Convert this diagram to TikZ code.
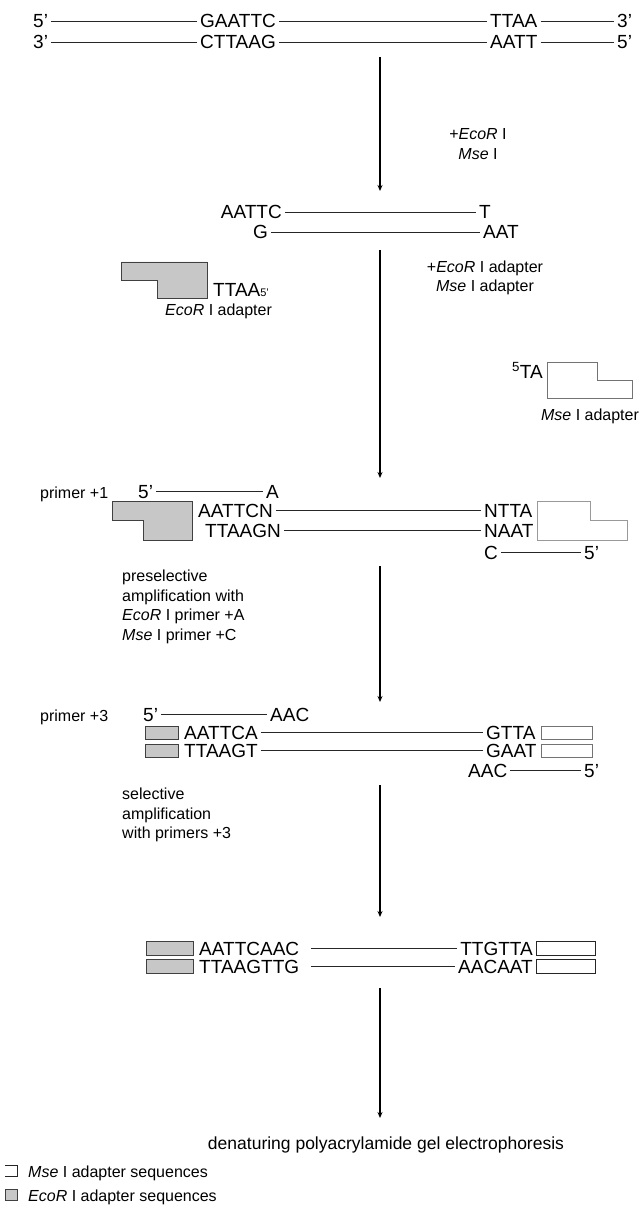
\documentclass[tikz,border=0pt]{standalone}
\usepackage{fontspec}
\setmainfont{Liberation Sans}
\usetikzlibrary{arrows.meta}
\newcommand\strandline[3][3]{\draw[strand] ([xshift=#1pt]#2.east) -- ([xshift=-3pt]#3.west);}
\tikzset{
  seq/.style={font=\fontsize{19}{21}\selectfont, inner sep=0pt, text height=13.6pt, text depth=0pt},
  lab/.style={font=\fontsize{16}{19.5}\selectfont, inner sep=0pt},
  strand/.style={line width=0.8pt, black!85},
  flow/.style={line width=1.5pt, -{Stealth[length=6pt,width=5pt]}},
  ecoad/.style={draw=black!75, fill=black!22, line width=0.9pt},
  msead/.style={draw=black!55, fill=white, line width=0.9pt},
  msedark/.style={draw=black!85, fill=white, line width=1pt},
}
\begin{document}
\begin{tikzpicture}[x=1pt,y=-1pt]
\useasboundingbox[fill=white] (0,0) rectangle (643,1214);

% ---- row 1/2: genomic DNA
\node[seq,anchor=base west] (a1) at (33,28) {5'};
\node[seq,anchor=base west] (a2) at (200,28) {GAATTC};
\node[seq,anchor=base west] (a3) at (490,28) {TTAA};
\node[seq,anchor=base west] (a4) at (617,28) {3'};
\strandline{a1}{a2}\strandline{a2}{a3}\strandline{a3}{a4}
\node[seq,anchor=base west] (b1) at (33,49) {3'};
\node[seq,anchor=base west] (b2) at (200,49) {CTTAAG};
\node[seq,anchor=base west] (b3) at (490,49) {AATT};
\node[seq,anchor=base west] (b4) at (617,49) {5'};
\strandline{b1}{b2}\strandline{b2}{b3}\strandline{b3}{b4}

% ---- arrow 1
\coordinate (s1) at (380,57); \coordinate (e1) at (380,191);
\draw[flow] (s1) -- (e1);
\node[lab,align=center] (l1) at (478,144) {+\textit{EcoR} I\\\textit{Mse} I};

% ---- row 3: digested fragment
\node[seq,anchor=base east] (c1) at (282,219) {AATTC};
\node[seq,anchor=base west] (c2) at (479,219) {T};
\strandline{c1}{c2}
\node[seq,anchor=base east] (d1) at (268,239) {G};
\node[seq,anchor=base west] (d2) at (483,239) {AAT};
\strandline{d1}{d2}

% ---- arrow 2
\coordinate (s2) at (380,250); \coordinate (e2) at (380,478);
\draw[flow] (s2) -- (e2);
\node[lab,align=center] (l2) at (485,278) {+\textit{EcoR} I adapter\\\textit{Mse} I adapter};

% free EcoR I adapter
\draw[ecoad] (121,262) -- (207,262) -- (207,298) -- (157,298) -- (157,280) -- (121,280) -- cycle;
\node[seq,anchor=base west] (ea) at (213,297) {TTAA{\fontsize{11}{11}\selectfont 5'}};
\node[lab,anchor=base west] (eal) at (165,316) {\textit{EcoR} I adapter};

% free Mse I adapter
\node[seq,anchor=base east] (ma) at (543,378) {\textsuperscript{5}TA};
\draw[msead] (547,362) -- (597,362) -- (597,380) -- (632,380) -- (632,398) -- (547,398) -- cycle;
\node[lab,anchor=base] (mal) at (590,420) {\textit{Mse} I adapter};

% ---- row 4: ligated fragment + primer +1
\node[lab,anchor=base west] (p1) at (40,498) {primer +1};
\node[seq,anchor=base west] (p1a) at (138,498) {5'};
\node[seq,anchor=base west] (p1b) at (266,498) {A};
\strandline{p1a}{p1b}
\draw[ecoad] (112,501) -- (192,501) -- (192,540) -- (143,540) -- (143,520) -- (112,520) -- cycle;
\node[seq,anchor=base west] (f1) at (198,517) {AATTCN};
\node[seq,anchor=base west] (f2) at (484,517) {NTTA};
\strandline{f1}{f2}
\node[seq,anchor=base west] (g1) at (205,537) {TTAAGN};
\node[seq,anchor=base west] (g2) at (484,537) {NAAT};
\strandline{g1}{g2}
\draw[msead,draw=black!40] (537,501) -- (590,501) -- (590,520) -- (627,520) -- (627,540) -- (537,540) -- cycle;
\node[seq,anchor=base west] (h1) at (484,559) {C};
\node[seq,anchor=base west] (h2) at (584,559) {5'};
\strandline{h1}{h2}

% ---- arrow 3
\coordinate (s3) at (380,566); \coordinate (e3) at (380,702);
\draw[flow] (s3) -- (e3);
\node[lab,align=left,anchor=north west] (l3) at (122,570) {preselective\\amplification with\\\textit{EcoR} I primer +A\\\textit{Mse} I primer +C};

% ---- row 5: primer +3
\node[lab,anchor=base west] (p3) at (40,721) {primer +3};
\node[seq,anchor=base west] (p3a) at (143,721) {5'};
\node[seq,anchor=base west] (p3b) at (270,721) {AAC};
\strandline{p3a}{p3b}
\draw[ecoad] (145,726) rectangle (178,739);
\draw[ecoad] (145,744) rectangle (178,757);
\node[seq,anchor=base west] (i1) at (184,739) {AATTCA};
\node[seq,anchor=base west] (i2) at (486,739) {GTTA};
\strandline{i1}{i2}
\node[seq,anchor=base west] (j1) at (184,757) {TTAAGT};
\node[seq,anchor=base west] (j2) at (486,757) {GAAT};
\strandline{j1}{j2}
\draw[msead] (541,726) rectangle (592,739);
\draw[msead] (541,744) rectangle (592,757);
\node[seq,anchor=base west] (k1) at (468,777) {AAC};
\node[seq,anchor=base west] (k2) at (584,777) {5'};
\strandline{k1}{k2}

% ---- arrow 4
\coordinate (s4) at (380,785); \coordinate (e4) at (380,917);
\draw[flow] (s4) -- (e4);
\node[lab,align=left,anchor=north west] (l4) at (122,788) {selective\\amplification\\with primers +3};

% ---- row 6: amplified fragment
\draw[ecoad] (146,941) rectangle (193,955);
\draw[ecoad] (146,959) rectangle (193,973);
\node[seq,anchor=base west] (m1) at (199,955) {AATTCAAC};
\node[seq,anchor=base east] (m2) at (533,955) {TTGTTA};
\strandline[12]{m1}{m2}
\node[seq,anchor=base west] (n1) at (199,973) {TTAAGTTG};
\node[seq,anchor=base east] (n2) at (533,973) {AACAAT};
\strandline[12]{n1}{n2}
\draw[msedark] (536,941) rectangle (595,955);
\draw[msedark] (536,959) rectangle (595,973);

% ---- arrow 5
\coordinate (s5) at (380,988); \coordinate (e5) at (380,1118);
\draw[flow] (s5) -- (e5);
\node[lab,anchor=base,font=\fontsize{17.5}{20}\selectfont] (l5) at (386,1149) {denaturing polyacrylamide gel electrophoresis};

% ---- legend
\draw[black!85,line width=1pt] (5,1165) -- (17,1165) -- (17,1176) -- (5,1176);
\node[lab,anchor=base west] (lg1) at (28,1177) {\textit{Mse} I adapter sequences};
\draw[ecoad] (5,1189) rectangle (17,1200);
\node[lab,anchor=base west] (lg2) at (28,1201) {\textit{EcoR} I adapter sequences};
\end{tikzpicture}
\end{document}
